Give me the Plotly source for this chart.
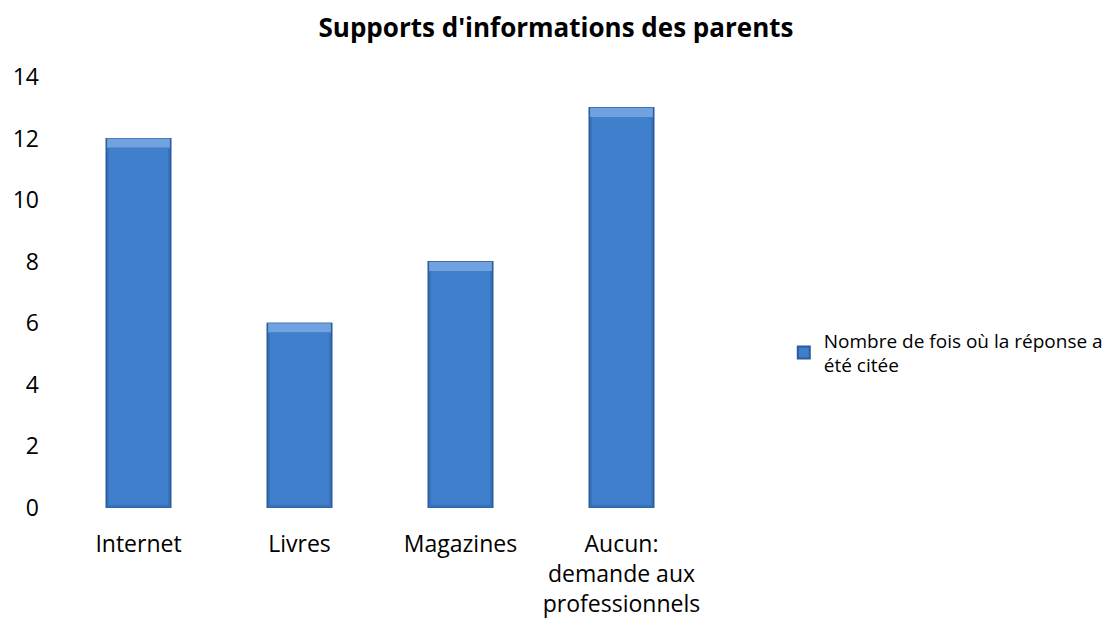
import plotly.graph_objects as go

# Chart data
categories = ["Internet", "Livres", "Magazines", "Aucun:<br>demande aux<br>professionnels"]
counts = [12, 6, 8, 13]
series_name = "Nombre de fois où la réponse a<br>été citée"
y_ticks = [0, 2, 4, 6, 8, 10, 12, 14]

FONT = "Open Sans"
FRAME = "#3670B8"
FACE = "#3F7FCB"
TOP = "#6FA2DF"
EDGE = "#2B5C9C"

# Bevel geometry (in data units / category widths)
BAR_W = 0.4
FACE_W = 0.37
TOP_H = 0.3
BOTTOM_H = 0.1

fig = go.Figure()

# Legend entry / outer bar
fig.add_trace(go.Bar(
    x=categories, y=counts, name=series_name,
    marker=dict(color=FACE, line=dict(color=EDGE, width=1.2)),
    width=BAR_W, showlegend=True,
))

# Darker frame under the face
fig.add_trace(go.Bar(
    x=categories, y=counts,
    marker=dict(color=FRAME, line=dict(color=EDGE, width=1.2)),
    width=BAR_W, showlegend=False, hoverinfo="skip",
))

# Light bevel along the top edge
fig.add_trace(go.Bar(
    x=categories, y=[TOP_H] * len(counts), base=[v - TOP_H for v in counts],
    marker=dict(color=TOP, line=dict(width=0)),
    width=BAR_W - 0.01, showlegend=False, hoverinfo="skip",
))

# Front face of each bar
fig.add_trace(go.Bar(
    x=categories, y=[v - TOP_H - BOTTOM_H for v in counts], base=[BOTTOM_H] * len(counts),
    marker=dict(color=FACE, line=dict(width=0)),
    width=FACE_W, showlegend=False, hoverinfo="skip",
))

fig.update_layout(
    width=1112, height=626,
    barmode="overlay",
    paper_bgcolor="white", plot_bgcolor="white",
    margin=dict(l=58, r=410, t=77, b=118, autoexpand=False),
    font=dict(family=FONT, size=23, color="#000000"),
    title=dict(text="<b>Supports d'informations des parents</b>",
               x=0.5, xref="container", xanchor="center",
               y=0.955, yanchor="middle",
               font=dict(family=FONT, size=26, color="#000000")),
    xaxis=dict(showline=False, showgrid=False, ticks="", tickfont=dict(size=23),
               range=[-0.5, 3.5], ticklabelstandoff=20),
    yaxis=dict(range=[0, 14], tickvals=y_ticks, showgrid=False, showline=False,
               zeroline=False, ticks="", ticklen=0, tickfont=dict(size=23),
               ticklabelstandoff=18),
    legend=dict(x=1.127, y=0.36, xanchor="left", yanchor="middle",
                font=dict(size=19), bgcolor="rgba(0,0,0,0)",
                itemsizing="constant", itemwidth=30),
    showlegend=True,
)

fig.write_html("out.html")
